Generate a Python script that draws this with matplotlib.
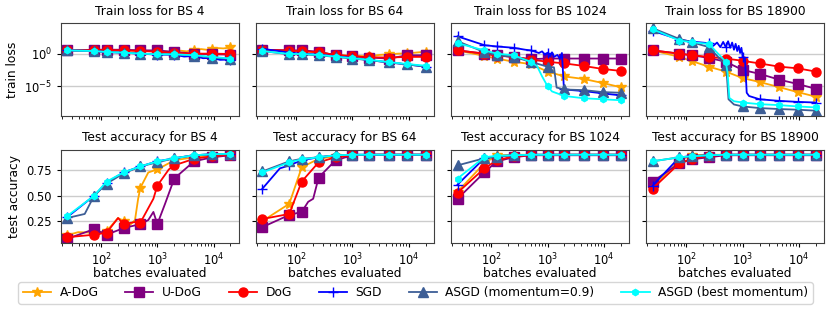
import numpy as np
import matplotlib
matplotlib.use('Agg')
import matplotlib.pyplot as plt

# batch counts where markers are drawn
BX = [25, 75, 125, 250, 500, 1000, 2000, 4500, 9500, 20000]

batch_sizes = [4, 64, 1024, 18900]
names = ['A-DoG', 'U-DoG', 'DoG', 'SGD', 'ASGD (momentum=0.9)', 'ASGD (best momentum)']
colors = ['orange', 'purple', 'red', 'blue', '#3d5e96', 'cyan']
markers = ['*', 's', 'o', '+', '^', 'h']
msizes = [7, 6.5, 6.5, 7, 6.5, 4.5]

# ---- train loss, stored as log10(loss) ----
# BS 4
tl4_adog_x = [25, 75, 125, 250, 500, 1000, 2000, 2600, 3300, 4500, 6000, 7500, 9500, 12000, 15000, 20000]
tl4_adog = [.5, .55, .55, .5, .45, .4, .25, .45, .35, .55, .7, .6, .75, .85, .8, .95]
tl4_udog = [.5, .6, .6, .6, .5, .5, .25, 0, -.1, -.15]
tl4_dog = [.5, .55, .55, .5, .4, .3, .1, 0, 0, -.05]
tl4_sgd_x = [25, 75, 125, 250, 500, 1000, 2000, 3000, 4500, 6500, 9500, 13000, 20000]
tl4_sgd = [.5, .4, .25, .15, 0, -.15, -.15, -.45, -.35, -.7, -.65, -.95, -.9]
tl4_asgd = [.5, .4, .25, .15, 0, -.1, -.1, -.3, -.6, -.85]
tl4_best = [.5, .4, .25, .15, 0, -.1, -.1, -.25, -.5, -.75]
# BS 64
tl64_adog_x = [25, 75, 125, 250, 500, 1000, 2000, 3000, 4500, 6500, 9500, 13000, 20000]
tl64_adog = [.6, .45, .35, .2, -.2, -.35, -.4, -.2, -.1, 0, .05, .15, .3]
tl64_udog = [.6, .5, .5, .3, -.25, -.4, -.6, -.75, -.25, -.25]
tl64_dog = [.6, .45, .4, .2, -.2, -.4, -.55, -.6, -.5, -.5]
tl64_sgd = [.75, .15, 0, -.15, -.4, -.65, -1.0, -1.35, -1.65, -2.0]
tl64_asgd = [.4, -.1, -.1, -.25, -.5, -.75, -1.0, -1.35, -1.65, -2.0]
tl64_best = [.4, -.05, -.05, -.2, -.45, -.7, -.95, -1.3, -1.6, -1.85]
# BS 1024
tl1024_adog = [.5, -.35, -.75, -1.25, -1.6, -2.75, -3.5, -3.9, -4.5, -5.15]
tl1024_udog = [.5, 0, -.25, -.5, -.85, -.75, -.75, -.75, -.75, -.75]
tl1024_dog = [.5, 0, -.3, -.5, -.9, -1.25, -1.5, -1.9, -2.35, -2.65]
tl1024_sgd_x = [25, 75, 125, 250, 400, 500, 600, 700, 800, 900, 1000, 1100, 1200, 1300, 1500, 1650, 1800, 1950, 2000, 4500, 9500, 20000]
tl1024_sgd = [2.65, 1.3, 1.1, .9, .6, .5, .3, .1, .35, -.2, .15, -.4, .2, -.5, -.2, -.8, .1, -5.2, -5.5, -5.75, -6.1, -6.4]
tl1024_asgd_x = [25, 75, 125, 250, 500, 1000, 1300, 1450, 2000, 4500, 9500, 20000]
tl1024_asgd = [1.9, .25, -.25, -.5, -1.25, -2.0, -2.1, -5.2, -5.5, -5.6, -5.9, -6.0]
tl1024_best_x = [25, 75, 125, 250, 500, 650, 800, 1000, 1200, 2000, 4500, 9500, 20000]
tl1024_best = [1.6, .5, 0, -.25, -1.25, -1.9, -3.5, -5.0, -5.8, -6.5, -6.85, -7.0, -7.15]
# BS 18900
tl18900_adog = [.5, -.5, -1.15, -2.0, -2.75, -3.75, -4.35, -5.15, -5.9, -6.6]
tl18900_udog = [.5, 0, -.25, -.65, -1.25, -2.5, -3.1, -4.0, -4.65, -5.4]
tl18900_dog = [.5, 0, -.25, -.5, -.75, -1.1, -1.5, -2.0, -2.25, -2.75]
tl18900_sgd_x = [25, 75, 125, 250, 300, 350, 400, 450, 500, 550, 600, 650, 700, 750, 800, 850, 900, 950, 1000, 1100, 1180, 1300, 2000, 4500, 9500, 20000]
tl18900_sgd = [3.5, 2.15, 1.85, 1.6, 1.2, 1.7, 1.0, 1.8, 1.0, 1.9, .9, 1.7, .6, 1.5, .4, 1.2, .1, .9, -.5, -.8, -6.0, -6.5, -7.0, -7.25, -7.4, -7.5]
tl18900_asgd_x = [25, 75, 125, 250, 500, 530, 560, 700, 1000, 2000, 4500, 9500, 20000]
tl18900_asgd = [3.9, 2.25, 1.75, 1.0, -1.75, -4.0, -7.0, -7.8, -8.1, -8.35, -8.5, -8.6, -8.75]
tl18900_best_x = [25, 75, 125, 250, 500, 540, 580, 700, 1000, 2000, 4500, 9500, 20000]
tl18900_best = [3.75, 2.0, 1.75, 1.5, -1.25, -3.0, -6.8, -7.3, -7.5, -7.75, -7.9, -8.1, -8.25]

# ---- test accuracy ----
# BS 4
ta4_adog_x = [25, 39, 75, 125, 200, 250, 325, 400, 455, 500, 690, 1000, 2000, 4500, 9500, 20000]
ta4_adog = [.11, .14, .135, .15, .28, .25, .21, .26, .47, .58, .73, .76, .85, .88, .90, .91]
ta4_udog_x = [25, 75, 125, 250, 500, 690, 850, 1000, 1370, 2000, 4500, 9500, 20000]
ta4_udog = [.075, .17, .115, .18, .22, .26, .34, .22, .42, .67, .84, .88, .90]
ta4_dog_x = [25, 75, 125, 200, 250, 400, 500, 850, 1000, 1600, 2000, 4500, 9500, 20000]
ta4_dog = [.09, .115, .135, .28, .22, .24, .235, .47, .60, .76, .80, .865, .89, .905]
ta4_sgd = [.29, .50, .63, .73, .79, .84, .87, .90, .91, .915]
ta4_asgd_x = [25, 51, 75, 125, 250, 500, 1000, 2000, 4500, 9500, 20000]
ta4_asgd = [.28, .32, .50, .62, .72, .79, .83, .87, .90, .91, .91]
ta4_best = [.30, .50, .64, .73, .79, .84, .87, .90, .91, .915]
# BS 64
ta64_adog = [.25, .42, .78, .865, .89, .90, .905, .905, .905, .905]
ta64_udog_x = [25, 75, 125, 163, 200, 250, 500, 1000, 2000, 4500, 9500, 20000]
ta64_udog = [.19, .31, .34, .44, .47, .68, .85, .90, .905, .905, .905, .905]
ta64_dog = [.27, .32, .64, .83, .88, .90, .905, .905, .905, .905]
ta64_sgd_x = [25, 51, 75, 125, 250, 500, 1000, 2000, 4500, 9500, 20000]
ta64_sgd = [.57, .77, .80, .85, .88, .90, .905, .905, .905, .905, .905]
ta64_asgd = [.74, .84, .865, .88, .90, .905, .905, .905, .905, .905]
ta64_best = [.73, .83, .86, .88, .90, .905, .905, .905, .905, .905]
# BS 1024
ta1024_adog = [.54, .82, .90, .905, .905, .905, .905, .905, .905, .905]
ta1024_udog = [.47, .73, .84, .88, .90, .90, .90, .90, .90, .90]
ta1024_dog = [.53, .77, .85, .89, .90, .905, .905, .905, .905, .905]
ta1024_sgd = [.61, .87, .89, .90, .905, .905, .905, .905, .905, .905]
ta1024_asgd = [.80, .87, .885, .90, .905, .905, .905, .905, .905, .905]
ta1024_best = [.67, .88, .895, .90, .905, .905, .905, .905, .905, .905]
# BS 18900
ta18900_adog = [.585, .85, .90, .905, .905, .905, .905, .905, .905, .905]
ta18900_udog = [.64, .82, .86, .88, .90, .90, .90, .90, .90, .90]
ta18900_dog = [.57, .82, .865, .895, .905, .905, .905, .905, .905, .905]
ta18900_sgd = [.60, .88, .89, .90, .905, .905, .905, .905, .905, .905]
ta18900_asgd = [.84, .88, .89, .90, .905, .905, .905, .905, .905, .905]
ta18900_best = [.84, .88, .89, .90, .905, .905, .905, .905, .905, .905]

train = {
    4: [(tl4_adog_x, tl4_adog), (BX, tl4_udog), (BX, tl4_dog), (tl4_sgd_x, tl4_sgd), (BX, tl4_asgd), (BX, tl4_best)],
    64: [(tl64_adog_x, tl64_adog), (BX, tl64_udog), (BX, tl64_dog), (BX, tl64_sgd), (BX, tl64_asgd), (BX, tl64_best)],
    1024: [(BX, tl1024_adog), (BX, tl1024_udog), (BX, tl1024_dog), (tl1024_sgd_x, tl1024_sgd), (tl1024_asgd_x, tl1024_asgd), (tl1024_best_x, tl1024_best)],
    18900: [(BX, tl18900_adog), (BX, tl18900_udog), (BX, tl18900_dog), (tl18900_sgd_x, tl18900_sgd), (tl18900_asgd_x, tl18900_asgd), (tl18900_best_x, tl18900_best)],
}
test = {
    4: [(ta4_adog_x, ta4_adog), (ta4_udog_x, ta4_udog), (ta4_dog_x, ta4_dog), (BX, ta4_sgd), (ta4_asgd_x, ta4_asgd), (BX, ta4_best)],
    64: [(BX, ta64_adog), (ta64_udog_x, ta64_udog), (BX, ta64_dog), (ta64_sgd_x, ta64_sgd), (BX, ta64_asgd), (BX, ta64_best)],
    1024: [(BX, ta1024_adog), (BX, ta1024_udog), (BX, ta1024_dog), (BX, ta1024_sgd), (BX, ta1024_asgd), (BX, ta1024_best)],
    18900: [(BX, ta18900_adog), (BX, ta18900_udog), (BX, ta18900_dog), (BX, ta18900_sgd), (BX, ta18900_asgd), (BX, ta18900_best)],
}

FS = 8.3
plt.rcParams['font.size'] = FS
plt.rcParams['axes.edgecolor'] = '0.25'
plt.rcParams['xtick.major.size'] = 3
plt.rcParams['ytick.major.size'] = 3
plt.rcParams['xtick.minor.size'] = 1.8

fig, axes = plt.subplots(2, 4, figsize=(8.31, 3.11), dpi=100, sharex=True, sharey='row')
fig.subplots_adjust(left=61/831, right=824/831, top=1-23/311, bottom=1-243/311,
                    wspace=0.098, hspace=0.36)

for j, bs in enumerate(batch_sizes):
    for row, data in enumerate([train, test]):
        ax = axes[row, j]
        for k, (x, y) in enumerate(data[bs]):
            x = np.array(x)
            y = np.array(y)
            if row == 0:
                y = 10.0 ** y
            ax.plot(x, y, color=colors[k], marker=markers[k], ms=msizes[k],
                    markevery=list(np.isin(x, BX)), lw=1.3, label=names[k])
        ax.set_xscale('log')
        ax.grid(axis='y', color='0.8', lw=1)
        ax.set_axisbelow(True)
    axes[0, j].set_title('Train loss for BS %d' % bs, fontsize=FS + 0.5)
    axes[1, j].set_title('Test accuracy for BS %d' % bs, fontsize=FS + 0.5)
    axes[1, j].set_xlabel('batches evaluated', fontsize=FS + 0.5, labelpad=-1)

axes[0, 0].set_yscale('log')
axes[0, 0].set_ylim(10 ** -9.6, 10 ** 4.7)
axes[0, 0].set_yticks([1e-5, 1e0])
axes[0, 0].yaxis.set_minor_locator(matplotlib.ticker.NullLocator())
axes[1, 0].set_ylim(0.033, 0.954)
axes[1, 0].set_yticks([0.25, 0.5, 0.75])
axes[0, 0].set_xlim(19.3, 28000)
axes[0, 0].set_ylabel('train loss', fontsize=FS + 0.5)
axes[1, 0].set_ylabel('test accuracy', fontsize=FS + 0.5)

h, l = axes[1, 0].get_legend_handles_labels()
fig.legend(h, l, loc='center', bbox_to_anchor=(0.5, 0.058), ncol=6,
           columnspacing=2.2, handlelength=2.3, handletextpad=0.7,
           fontsize=FS + 0.5, borderpad=0.35)

fig.savefig('out.png', dpi=100)
